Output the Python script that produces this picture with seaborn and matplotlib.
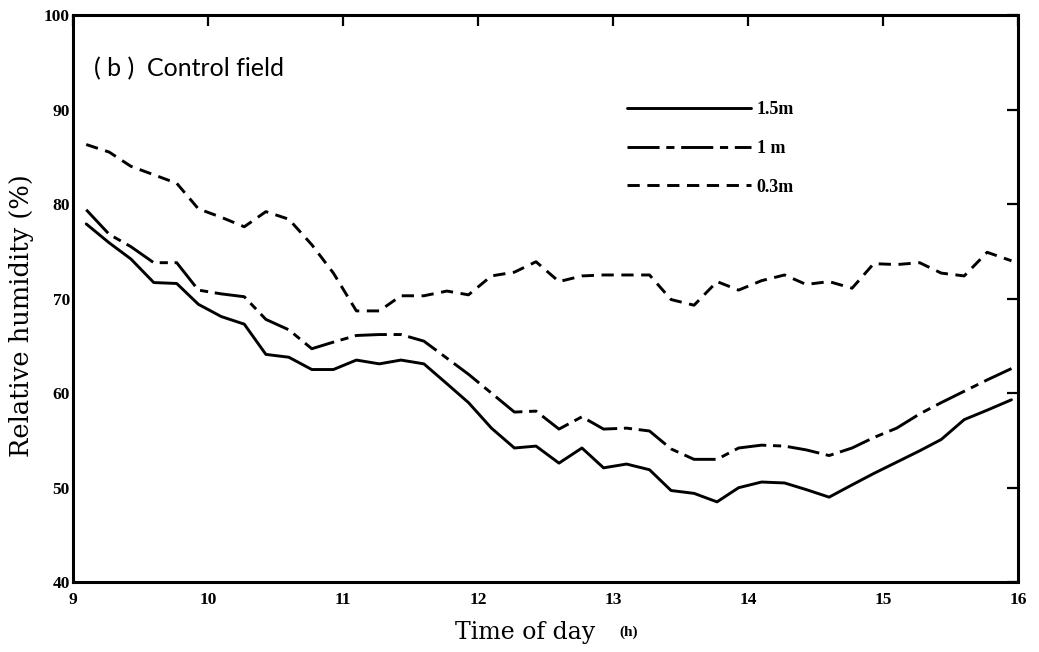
import numpy as np
import pandas as pd
import matplotlib
matplotlib.use("Agg")
import matplotlib.pyplot as plt
import seaborn as sns

# ---- data ----
time_h = [9.10, 9.27, 9.43, 9.60, 9.77, 9.93, 10.10, 10.27, 10.43, 10.60,
          10.77, 10.93, 11.10, 11.27, 11.43, 11.60, 11.77, 11.93, 12.10, 12.27,
          12.43, 12.60, 12.77, 12.93, 13.10, 13.27, 13.43, 13.60, 13.77, 13.93,
          14.10, 14.27, 14.43, 14.60, 14.77, 14.93, 15.10, 15.27, 15.43, 15.60,
          15.77, 15.95]

rh_15m = [77.9, 75.9, 74.2, 71.7, 71.6, 69.4, 68.1, 67.3, 64.1, 63.8,
          62.5, 62.5, 63.5, 63.1, 63.5, 63.1, 61.0, 59.0, 56.3, 54.2,
          54.4, 52.6, 54.2, 52.1, 52.5, 51.9, 49.7, 49.4, 48.5, 50.0,
          50.6, 50.5, 49.8, 49.0, 50.3, 51.5, 52.7, 53.9, 55.1, 57.2,
          58.2, 59.3]

rh_1m = [79.4, 76.8, 75.5, 73.8, 73.8, 70.9, 70.5, 70.2, 67.8, 66.7,
         64.7, 65.4, 66.1, 66.2, 66.2, 65.5, 63.7, 62.0, 60.0, 58.0,
         58.1, 56.2, 57.5, 56.2, 56.3, 56.0, 54.1, 53.0, 53.0, 54.2,
         54.5, 54.4, 54.0, 53.4, 54.2, 55.3, 56.3, 57.8, 59.0, 60.2,
         61.4, 62.6]

rh_03m = [86.3, 85.5, 84.0, 83.1, 82.2, 79.5, 78.6, 77.6, 79.2, 78.4,
          75.7, 72.7, 68.7, 68.7, 70.3, 70.3, 70.8, 70.4, 72.4, 72.8,
          73.9, 71.8, 72.4, 72.5, 72.5, 72.5, 69.9, 69.3, 71.8, 70.9,
          71.9, 72.5, 71.5, 71.8, 71.1, 73.7, 73.6, 73.8, 72.7, 72.4,
          74.9, 74.0]

series_labels = ["1.5m", "1 m", "0.3m"]
x_ticks = [9, 10, 11, 12, 13, 14, 15, 16]
y_ticks = [40, 50, 60, 70, 80, 90, 100]

df = pd.concat([
    pd.DataFrame({"time": time_h, "rh": rh_15m, "height": series_labels[0]}),
    pd.DataFrame({"time": time_h, "rh": rh_1m, "height": series_labels[1]}),
    pd.DataFrame({"time": time_h, "rh": rh_03m, "height": series_labels[2]}),
], ignore_index=True)

sns.set_style("white")
plt.rcParams["font.family"] = ["Liberation Serif", "DejaVu Serif"]
plt.rcParams["text.color"] = "black"
plt.rcParams["axes.labelcolor"] = "black"
plt.rcParams["xtick.color"] = "black"
plt.rcParams["ytick.color"] = "black"

fig = plt.figure(figsize=(10.39, 6.52), dpi=100)
ax = fig.add_axes([0.070, 0.107, 0.910, 0.870])

dash_map = {"1.5m": "", "1 m": (11, 2.3, 2.8, 2.3), "0.3m": (4.2, 2.6)}
sns.lineplot(data=df, x="time", y="rh", style="height", dashes=dash_map,
             style_order=series_labels, color="black", linewidth=2.1,
             ax=ax, legend=False, sort=False)

ax.set_xlim(9, 16)
ax.set_ylim(40, 100)
ax.set_xticks(x_ticks)
ax.set_yticks(y_ticks)
ax.set_xticklabels([str(v) for v in x_ticks], fontsize=12.5, fontweight="bold")
ax.set_yticklabels([str(v) for v in y_ticks], fontsize=12.5, fontweight="bold")
ax.tick_params(axis="both", direction="in", length=8, width=1.6,
               top=True, right=True, labeltop=False, labelright=False,
               colors="black")
ax.tick_params(axis="x", pad=7)
ax.tick_params(axis="y", pad=2)
for sp in ax.spines.values():
    sp.set_visible(True)
    sp.set_linewidth(2.2)
    sp.set_color("black")

ax.set_ylabel("Relative humidity (%)", fontsize=18.5, family="DejaVu Serif",
              color="black")
ax.yaxis.set_label_coords(-0.054, 0.47)
ax.yaxis.label.set_va("center")
ax.set_xlabel("Time of day", fontsize=17, family="DejaVu Serif", color="black")
ax.xaxis.set_label_coords(0.478, -0.088)
ax.xaxis.label.set_va("center")
ax.text(0.578, -0.088, "(h)", transform=ax.transAxes, fontsize=11,
        fontweight="bold", ha="left", va="center", color="black")

ax.text(0.022, 0.905, "( b )  Control field", transform=ax.transAxes,
        fontsize=18, family="Lato", ha="left", va="center", color="black")

lines = ax.get_lines()[:3]
leg = ax.legend(lines, series_labels, loc="upper left",
                bbox_to_anchor=(0.586, 0.848), frameon=False,
                handlelength=6.9, handletextpad=0.3, labelspacing=1.2,
                borderpad=0, borderaxespad=0,
                prop={"family": "Liberation Serif", "weight": "bold", "size": 13})
for t in leg.get_texts():
    t.set_color("black")

fig.savefig("out.png", dpi=100, facecolor="white")
